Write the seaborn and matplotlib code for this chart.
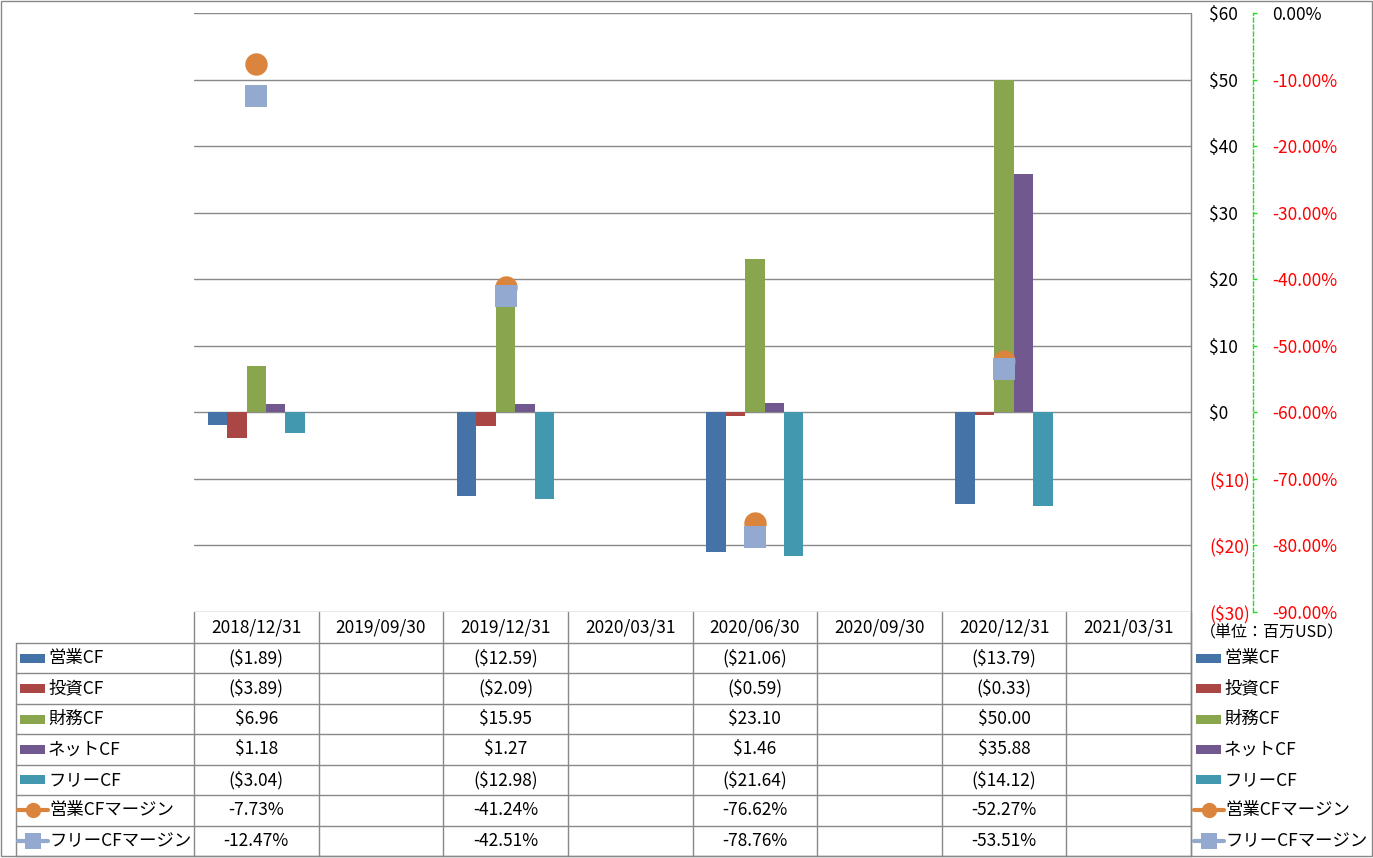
import numpy as np
import pandas as pd
import matplotlib
matplotlib.use("Agg")
import matplotlib.pyplot as plt
import seaborn as sns
from matplotlib.lines import Line2D
from matplotlib.patches import Rectangle
from matplotlib.transforms import blended_transform_factory

# ---------------- data ----------------
dates = ['2018/12/31', '2019/09/30', '2019/12/31', '2020/03/31',
         '2020/06/30', '2020/09/30', '2020/12/31', '2021/03/31']
data_dates = ['2018/12/31', '2019/12/31', '2020/06/30', '2020/12/31']
series_names = ['営業CF', '投資CF', '財務CF', 'ネットCF', 'フリーCF']
op_cf = [-1.89, -12.59, -21.06, -13.79]
inv_cf = [-3.89, -2.09, -0.59, -0.33]
fin_cf = [6.96, 15.95, 23.10, 50.00]
net_cf = [1.18, 1.27, 1.46, 35.88]
free_cf = [-3.04, -12.98, -21.64, -14.12]
margin_names = ['営業CFマージン', 'フリーCFマージン']
op_margin = [-7.73, -41.24, -76.62, -52.27]
free_margin = [-12.47, -42.51, -78.76, -53.51]
left_ticks = [-30, -20, -10, 0, 10, 20, 30, 40, 50, 60]
right_ticks = [-90, -80, -70, -60, -50, -40, -30, -20, -10, 0]
unit_label = '（単位：百万USD）'

bar_colors = ['#4572A7', '#AA4643', '#89A54E', '#71588F', '#4198AF']
margin_colors = ['#DB843D', '#93A9CF']
grid_color = '#898989'

# ---------------- setup ----------------
sns.set_theme(style='white')
plt.rcParams['font.family'] = ['Noto Sans CJK JP', 'DejaVu Sans']
plt.rcParams['text.parse_math'] = False

W, H = 1373, 858
fig = plt.figure(figsize=(W / 100, H / 100), dpi=100)
fig.patch.set_facecolor('white')
FS = 12.5


def fx(x):
    return x / W


def fy(y):
    return 1 - y / H


PL, PR, PT, PB = 194, 1191, 13, 612
ax = fig.add_axes([fx(PL), fy(PB), (PR - PL) / W, (PB - PT) / H])
ax.patch.set_visible(False)

cf_values = [op_cf, inv_cf, fin_cf, net_cf, free_cf]
rows = []
for name, vals in zip(series_names, cf_values):
    for d, v in zip(data_dates, vals):
        rows.append({'date': d, 'series': name, 'value': v})
df = pd.DataFrame(rows)

sns.barplot(data=df, x='date', y='value', hue='series', order=dates,
            hue_order=series_names, palette=bar_colors, width=0.78,
            saturation=1, errorbar=None, legend=False, ax=ax, zorder=3,
            linewidth=0, edgecolor='none')

ax.set_xlim(-0.5, len(dates) - 0.5)
ax.set_ylim(-30, 60)
ax.set_xticks([])
ax.set_xlabel('')
ax.set_ylabel('')
ax.grid(axis='y', color=grid_color, lw=1)
ax.set_axisbelow(True)
for s in ax.spines.values():
    s.set_visible(False)

# secondary axis
ax2 = ax.twinx()
ax2.set_ylim(-90, 0)
ax2.set_yticks(right_ticks)
ax2.set_yticklabels([f'{v:.2f}%' if v < 0 else '0.00%' for v in right_ticks])
for k in ['top', 'bottom', 'left']:
    ax2.spines[k].set_visible(False)
ax2.spines['right'].set_position(('axes', (1253 - PL) / (PR - PL)))
ax2.spines['right'].set_color('#22DD22')
ax2.spines['right'].set_linestyle((0, (3, 2)))
ax2.spines['right'].set_linewidth(1)
ax2.tick_params(axis='y', direction='out', length=3, width=1, color='#22DD22',
                pad=11, labelsize=FS)
ax2.grid(False)
for tick, v in zip(ax2.yaxis.get_major_ticks(), right_ticks):
    c = 'black' if v == 0 else '#FF0000'
    tick.label1.set_color(c)
    tick.label2.set_color(c)

# primary ticks on the right (after twinx, which resets them to the left)
ax.set_yticks(left_ticks)
ax.set_yticklabels([f'${v}' if v >= 0 else f'(${-v})' for v in left_ticks])
ax.yaxis.tick_right()
ax.tick_params(axis='y', which='both', left=False, right=False,
               labelleft=False, labelright=True, length=0, pad=13, labelsize=FS)
for tick, v in zip(ax.yaxis.get_major_ticks(), left_ticks):
    c = 'black' if v >= 0 else '#FF0000'
    tick.label1.set_color(c)
    tick.label2.set_color(c)

mdf = pd.DataFrame({
    'pos': [dates.index(d) for d in data_dates] * 2,
    'value': op_margin + free_margin,
    'series': [margin_names[0]] * len(data_dates) + [margin_names[1]] * len(data_dates),
})
sns.scatterplot(data=mdf[mdf.series == margin_names[0]], x='pos', y='value',
                color=margin_colors[0], marker='o', s=260, linewidth=0,
                legend=False, ax=ax2, zorder=5)
sns.scatterplot(data=mdf[mdf.series == margin_names[1]], x='pos', y='value',
                color=margin_colors[1], marker='s', s=230, linewidth=0,
                legend=False, ax=ax2, zorder=6)
ax2.set_xlim(-0.5, len(dates) - 0.5)
ax2.set_xlabel('')
ax2.set_ylabel('')

# ---------------- data table ----------------
trans = blended_transform_factory(ax.transData, fig.transFigure)
TL = 16
row_top = 643
row_h = (856 - 643) / 7
row_ys = [row_top + i * row_h for i in range(8)]


def fline(x0, x1, y0, y1, transform=None, **kw):
    kw.setdefault('color', grid_color)
    kw.setdefault('lw', 1)
    fig.add_artist(Line2D([x0, x1], [y0, y1],
                          transform=transform or fig.transFigure, **kw))


for i in range(len(dates) + 1):
    fline(i - 0.5, i - 0.5, fy(PB), fy(856), transform=trans)
fline(fx(PR), fx(PR), fy(PT), fy(856))
fline(fx(TL), fx(TL), fy(row_top), fy(856))
for y in row_ys:
    fline(fx(TL), fx(PR), fy(y), fy(y))

for i, d in enumerate(dates):
    fig.text(i, fy((PB + row_top) / 2), d, transform=trans, ha='center',
             va='center', fontsize=FS, color='black')


def money(v):
    return f'${v:.2f}' if v >= 0 else f'(${-v:.2f})'


table_rows = [(n, v, money) for n, v in zip(series_names, cf_values)] + \
             [(n, v, lambda x: f'{x:.2f}%') for n, v in zip(margin_names, [op_margin, free_margin])]

for r, (name, vals, fmt) in enumerate(table_rows):
    yc = fy((row_ys[r] + row_ys[r + 1]) / 2)
    for d, v in zip(data_dates, vals):
        fig.text(dates.index(d), yc, fmt(v), transform=trans, ha='center',
                 va='center', fontsize=FS, color='black')


def legend_key(x0, yc, idx):
    if idx < 5:
        fig.add_artist(Rectangle((fx(x0 + 4), yc - 4.5 / H), 25 / W, 9 / H,
                                 transform=fig.transFigure,
                                 color=bar_colors[idx], lw=0))
        return x0 + 32
    c = margin_colors[idx - 5]
    fig.add_artist(Line2D([fx(x0 + 2), fx(x0 + 32)], [yc, yc],
                          transform=fig.transFigure, color=c, lw=3))
    fig.add_artist(Line2D([fx(x0 + 17)], [yc], transform=fig.transFigure,
                          color=c, marker='o' if idx == 5 else 's',
                          ms=11, mew=0, ls='none'))
    return x0 + 33


all_names = series_names + margin_names
for r, name in enumerate(all_names):
    yc = fy((row_ys[r] + row_ys[r + 1]) / 2)
    tx = legend_key(TL, yc, r)
    fig.text(fx(tx), yc, name, ha='left', va='center', fontsize=FS, color='black')
    tx = legend_key(1192, yc, r)
    fig.text(fx(tx), yc, name, ha='left', va='center', fontsize=FS, color='black')

fig.text(fx(1200), fy(633), unit_label, ha='left', va='center', fontsize=11.5,
         color='black')

fig.add_artist(Rectangle((fx(1), fy(856)), (W - 2) / W, (855) / H,
                         transform=fig.transFigure, fill=False,
                         edgecolor=grid_color, lw=1))

fig.savefig('out.png', dpi=100, facecolor='white')
